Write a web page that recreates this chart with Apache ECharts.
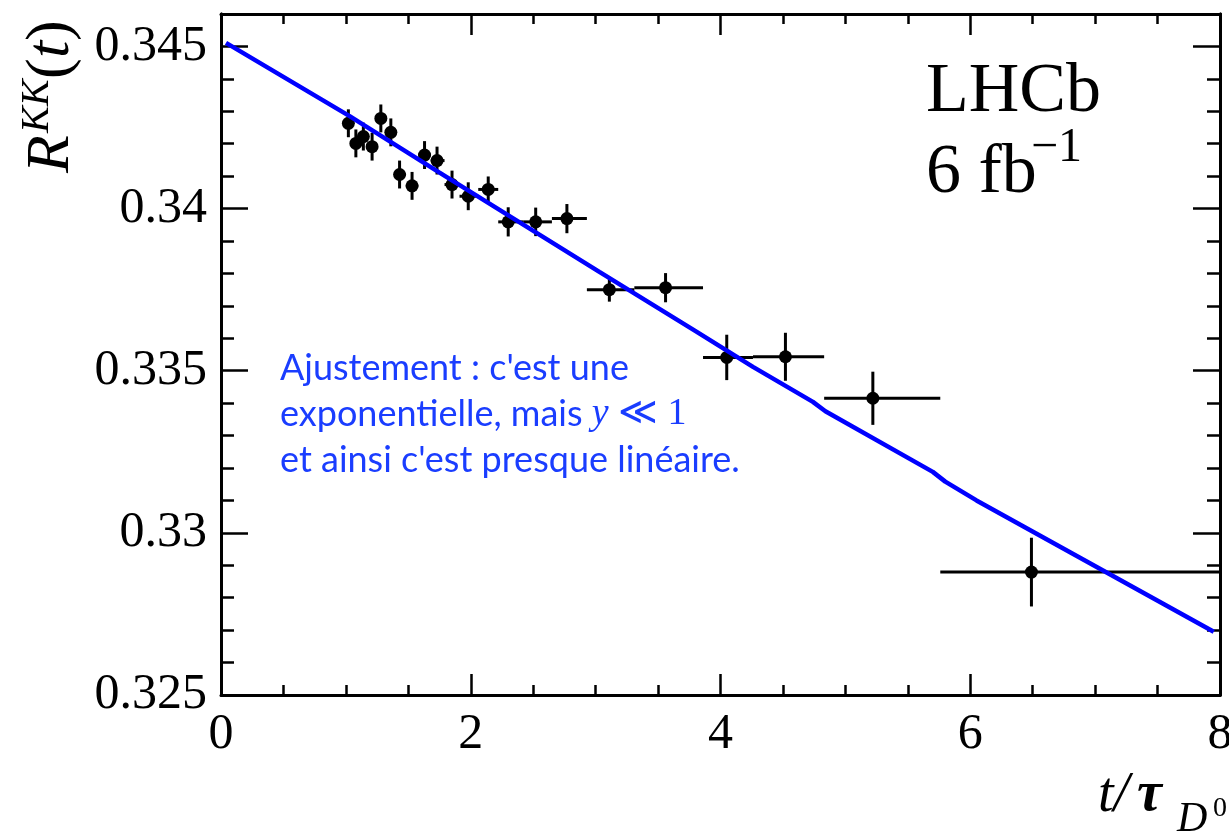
<!DOCTYPE html>
<html><head><meta charset="utf-8">
<script src="https://cdn.jsdelivr.net/npm/echarts@6/dist/echarts.min.js"></script>
<style>html,body{margin:0;padding:0;background:#fff}#c{width:1229px;height:831px}</style>
</head><body><div id="c"></div>
<script>
// ---- data ----
const tValues = [1.02,1.08,1.14,1.21,1.28,1.36,1.43,1.53,1.63,1.73,1.85,1.98,2.14,2.30,2.52,2.77,3.11,3.56,4.05,4.52,5.22,6.49];
const rValues = [0.34263,0.34201,0.34222,0.34191,0.34278,0.34235,0.34105,0.34070,0.34165,0.34148,0.34074,0.34038,0.34059,0.33959,0.33959,0.33969,0.33750,0.33756,0.33541,0.33543,0.33415,0.32879];
const binLow  = [0.98,1.05,1.11,1.17,1.24,1.32,1.40,1.48,1.58,1.68,1.79,1.91,2.06,2.22,2.42,2.65,2.93,3.31,3.86,4.26,4.83,5.76];
const binHigh = [1.05,1.11,1.17,1.24,1.32,1.40,1.48,1.58,1.68,1.79,1.91,2.06,2.22,2.42,2.65,2.93,3.31,3.86,4.26,4.83,5.76,8.00];
const rErr    = [0.00043,0.00043,0.00043,0.00043,0.00043,0.00043,0.00043,0.00043,0.00043,0.00043,0.00043,0.00043,0.00040,0.00045,0.00044,0.00045,0.00037,0.00045,0.00070,0.00074,0.00082,0.00106];
const fitT = [0.04,1.03,1.75,3.03,3.81,4.26,4.74,4.84,5.70,5.80,6.05,7.95];
const fitR = [0.34511,0.34285,0.34111,0.33805,0.33620,0.33512,0.33404,0.33375,0.33188,0.33158,0.33100,0.32695];
const xTickLabels = ['0','2','4','6','8'];
const yTickLabels = ['0.325','0.33','0.335','0.34','0.345'];

const serif = 'Liberation Serif';
const blue = '#0000ff';
const noteBlue = '#1a3dff';

const pointData = tValues.map((t,i)=>[t, rValues[i]]);
const errData = tValues.map((t,i)=>[t, rValues[i], binLow[i], binHigh[i], rErr[i]]);
const fitData = fitT.map((t,i)=>[t, fitR[i]]);

function xLabel(v){
  const s = xTickLabels.find(l => Math.abs(parseFloat(l)-v) < 1e-9);
  return s === undefined ? '' : s;
}
function yLabel(v){
  const s = yTickLabels.find(l => Math.abs(parseFloat(l)-v) < 1e-9);
  return s === undefined ? '' : s;
}

const tickStyle = {color:'#000', width:2.5};
const lineStyle = {color:'#000', width:3};
function xAx(pos, showLabel){
  return {type:'value', min:0, max:8, interval:2, position:pos,
    axisLine:{show:true, onZero:false, lineStyle},
    axisTick:{show:true, inside:true, length:21, lineStyle:tickStyle},
    minorTick:{show:true, splitNumber:4, length:10, lineStyle:tickStyle},
    splitLine:{show:false}, minorSplitLine:{show:false},
    axisLabel:{show:showLabel, formatter:xLabel, fontFamily:serif, fontSize:50, color:'#000', margin:15, hideOverlap:false}
  };
}
function yAx(pos, interval, len, showLabel){
  return {type:'value', min:0.325, max:0.346, interval:interval, position:pos,
    axisLine:{show:true, onZero:false, lineStyle},
    axisTick:{show:true, inside:true, length:len, lineStyle:tickStyle},
    minorTick:{show:false},
    splitLine:{show:false}, minorSplitLine:{show:false},
    axisLabel:{show:showLabel, formatter:yLabel, fontFamily:serif, fontSize:50, color:'#000', margin:14, hideOverlap:false}
  };
}

const chart = echarts.init(document.getElementById('c'), null, {renderer:'canvas'});
chart.setOption({
  animation:false,
  backgroundColor:'#fff',
  grid:{left:221, right:9, top:14, bottom:136, containLabel:false, outerBoundsMode:'none'},
  xAxis:[xAx('bottom', true), xAx('top', false)],
  yAxis:[yAx('left',0.005,27,true), yAx('right',0.005,27,false), yAx('left',0.001,13,false), yAx('right',0.001,13,false)],
  series:[
    {type:'custom', xAxisIndex:0, yAxisIndex:0, data:errData, encode:{x:[0,2,3], y:1}, z:3,
     renderItem:function(params, api){
       const t=api.value(0), r=api.value(1), lo=api.value(2), hi=api.value(3), e=api.value(4);
       const a=api.coord([lo,r]), b=api.coord([hi,r]);
       const c=api.coord([t,r-e]), d=api.coord([t,r+e]);
       const st={stroke:'#000', lineWidth:3};
       return {type:'group', children:[
         {type:'line', shape:{x1:a[0],y1:a[1],x2:b[0],y2:b[1]}, style:st},
         {type:'line', shape:{x1:c[0],y1:c[1],x2:d[0],y2:d[1]}, style:st}
       ]};
     }},
    {type:'scatter', xAxisIndex:0, yAxisIndex:0, data:pointData, symbol:'circle', symbolSize:13,
     itemStyle:{color:'#000', opacity:1}, z:4},
    {type:'line', xAxisIndex:0, yAxisIndex:0, data:fitData, showSymbol:false, symbol:'none',
     lineStyle:{color:blue, width:4.5}, z:5, clip:true}
  ],
  graphic:[
    // y-axis title R^{KK}(t), rotated
    {type:'group', x:73, y:173, rotation:Math.PI/2, children:[
      {type:'text', x:0, y:-21, style:{text:'R', font:'italic 62px "Liberation Serif"', fill:'#000', textAlign:'left', textVerticalAlign:'middle', align:'left', verticalAlign:'middle'}},
      {type:'text', x:40, y:-36, style:{text:'KK', font:'italic 40px "Liberation Serif"', fill:'#000', textAlign:'left', textVerticalAlign:'middle', align:'left', verticalAlign:'middle'}},
      {type:'text', x:94, y:-21, style:{text:'(', font:'62px "Liberation Serif"', fill:'#000', textAlign:'left', textVerticalAlign:'middle', align:'left', verticalAlign:'middle'}},
      {type:'text', x:115, y:-21, style:{text:'t', font:'italic 62px "Liberation Serif"', fill:'#000', textAlign:'left', textVerticalAlign:'middle', align:'left', verticalAlign:'middle'}},
      {type:'text', x:132, y:-21, style:{text:')', font:'62px "Liberation Serif"', fill:'#000', textAlign:'left', textVerticalAlign:'middle', align:'left', verticalAlign:'middle'}}
    ]},
    // x-axis title t/tau_{D^0}
    {type:'text', left:1098, top:768, style:{text:'t/', font:'italic 56px "Liberation Serif"', fill:'#000'}},
    {type:'text', left:1137, top:768, style:{text:'τ', font:'italic bold 56px "Liberation Serif"', fill:'#000'}},
    {type:'text', left:1177, top:799, style:{text:'D', font:'italic 42px "Liberation Serif"', fill:'#000'}},
    {type:'text', left:1213, top:795, style:{text:'0', font:'28px "Liberation Serif"', fill:'#000'}},
    // LHCb label
    {type:'text', left:926, top:58, style:{text:'LHCb', font:'70px "Liberation Serif"', fill:'#000'}},
    {type:'text', left:926, top:139, style:{text:'6 fb', font:'70px "Liberation Serif"', fill:'#000'}},
    {type:'text', left:1031, top:124, style:{text:'−1', font:'48px "Liberation Serif"', fill:'#000'}},
    // annotation
    {type:'text', left:280, top:350, style:{
      text:'{s|Ajustement : c\'est une}\n{s|exponentielle, mais }{m|y}{r| ≪ 1}\n{s|et ainsi c\'est presque linéaire.}',
      rich:{
        s:{font:'36px Lato', fill:noteBlue, lineHeight:46},
        m:{font:'italic 38px "Liberation Serif"', fill:noteBlue, lineHeight:46},
        r:{font:'38px "Liberation Serif"', fill:noteBlue, lineHeight:46}
      }}}
  ]
});
</script></body></html>
